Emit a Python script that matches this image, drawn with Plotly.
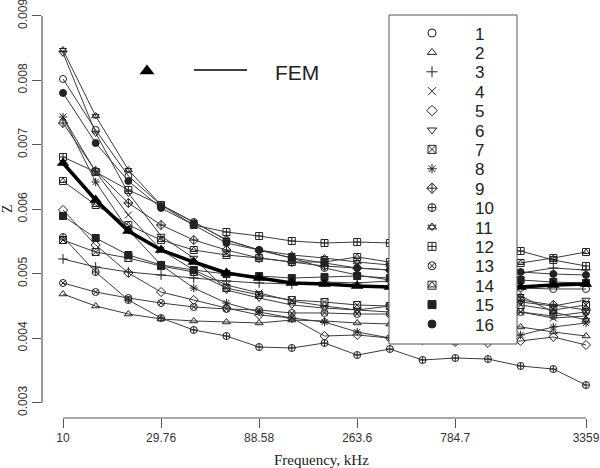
import plotly.graph_objects as go

# ---- data ----
freq = [10, 14.38, 20.69, 29.76, 42.81, 61.58, 88.58, 127.4, 183.3, 263.6,
        379.2, 545.5, 784.7, 1128.7, 1623.6, 2335.5, 3359]
x_tick_vals = [10, 29.76, 88.58, 263.6, 784.7, 3359]
x_tick_text = ["10", "29.76", "88.58", "263.6", "784.7", "3359"]
y_tick_vals = [0.003, 0.004, 0.005, 0.006, 0.007, 0.008, 0.009]
y_tick_text = ["0.003", "0.004", "0.005", "0.006", "0.007", "0.008", "0.009"]

z_fem = [0.006716, 0.006143, 0.005662, 0.005367, 0.005181, 0.005011, 0.004933, 0.004856, 0.004840,
         0.004809, 0.004794, 0.004794, 0.004794, 0.004794, 0.004794, 0.004825, 0.004840]
z1 = [0.008019, 0.007228, 0.006515, 0.006065, 0.005801, 0.005522, 0.005367, 0.005243, 0.005088,
      0.004980, 0.004902, 0.004856, 0.004825, 0.004794, 0.004778, 0.004763, 0.004763]
z2 = [0.004685, 0.004499, 0.004375, 0.004298, 0.004267, 0.004251, 0.004236, 0.004282, 0.004267,
      0.004236, 0.004220, 0.004205, 0.004189, 0.004189, 0.004174, 0.004096, 0.004034]
z3 = [0.005228, 0.005104, 0.005026, 0.004980, 0.004933, 0.004887, 0.004856, 0.004840, 0.004871,
      0.004856, 0.004887, 0.004902, 0.004933, 0.004964, 0.005011, 0.005088, 0.005057]
z4 = [0.007429, 0.006577, 0.005910, 0.005367, 0.005057, 0.004825, 0.004701, 0.004577, 0.004499,
      0.004437, 0.004406, 0.004375, 0.004360, 0.004344, 0.004406, 0.004313, 0.004344]
z5 = [0.005988, 0.005445, 0.005011, 0.004716, 0.004592, 0.004468, 0.004360, 0.004313, 0.004034,
      0.004050, 0.004003, 0.003972, 0.003941, 0.003926, 0.003957, 0.004019, 0.003895]
z6 = [0.008422, 0.007181, 0.006251, 0.005584, 0.005243, 0.004747, 0.004623, 0.004515, 0.004468,
      0.004437, 0.004499, 0.004515, 0.004530, 0.004546, 0.004561, 0.004499, 0.004592]
z7 = [0.005522, 0.005336, 0.005243, 0.005119, 0.005026, 0.004778, 0.004670, 0.004592, 0.004561,
      0.004515, 0.004499, 0.004499, 0.004499, 0.004515, 0.004515, 0.004437, 0.004515]
z8 = [0.007429, 0.006422, 0.005677, 0.005135, 0.004778, 0.004546, 0.004406, 0.004313, 0.004251,
      0.004096, 0.004003, 0.003972, 0.003957, 0.004003, 0.004050, 0.004174, 0.004236]
z9 = [0.007336, 0.006592, 0.006096, 0.005755, 0.005522, 0.005367, 0.005243, 0.005181, 0.005119,
      0.005088, 0.005057, 0.004902, 0.004747, 0.004654, 0.004592, 0.004515, 0.004437]
z10 = [0.005569, 0.005026, 0.004592, 0.004313, 0.004127, 0.004034, 0.003863, 0.003848, 0.003926,
       0.003739, 0.003832, 0.003662, 0.003693, 0.003677, 0.003569, 0.003522, 0.003274]
z11 = [0.008468, 0.007445, 0.006608, 0.006065, 0.005801, 0.005522, 0.005367, 0.005290, 0.005243,
       0.005181, 0.005135, 0.005057, 0.004902, 0.004747, 0.004654, 0.004406, 0.004282]
z12 = [0.006809, 0.006577, 0.006298, 0.006065, 0.005755, 0.005646, 0.005584, 0.005507, 0.005476,
       0.005491, 0.005476, 0.005445, 0.005414, 0.005383, 0.005352, 0.005212, 0.005119]
z13 = [0.004856, 0.004716, 0.004623, 0.004546, 0.004484, 0.004453, 0.004437, 0.004391, 0.004391,
       0.004375, 0.004375, 0.004391, 0.004406, 0.004406, 0.004406, 0.004344, 0.004406]
z14 = [0.006437, 0.006065, 0.005755, 0.005522, 0.005367, 0.005290, 0.005243, 0.005181, 0.005181,
       0.005259, 0.005181, 0.005150, 0.005135, 0.005150, 0.005166, 0.005243, 0.005336]
z15 = [0.005895, 0.005553, 0.005290, 0.005135, 0.005057, 0.004995, 0.004964, 0.004933, 0.004949,
       0.004964, 0.004933, 0.004918, 0.004902, 0.004902, 0.004902, 0.004871, 0.004856]
z16 = [0.007802, 0.007026, 0.006437, 0.006019, 0.005755, 0.005476, 0.005367, 0.005243, 0.005166,
       0.005088, 0.005057, 0.005042, 0.005042, 0.005026, 0.005026, 0.004995, 0.004980]

series_names = [str(k) for k in range(1, 17)]
series_values = [z1, z2, z3, z4, z5, z6, z7, z8, z9, z10, z11, z12, z13, z14, z15, z16]
# base glyph and an optional overlaid glyph (to mimic R's pch 11 and 14)
series_symbols = ["circle-open", "triangle-up-open", "cross-thin-open", "x-thin-open",
                  "diamond-open", "triangle-down-open", "square-x-open", "asterisk-open",
                  "diamond-cross-open", "circle-cross-open", "triangle-up-open", "square-cross-open",
                  "circle-x-open", "square-open", "square", "circle"]
series_overlay = [None, None, None, None, None, None, None, None, None, None,
                  "triangle-down-open", None, None, "triangle-up-open", None, None]

# ---- styling ----
SANS = "Arial, Liberation Sans, sans-serif"
SERIF = "Times New Roman, Liberation Serif, serif"
INK = "#222222"
AXIS = "#555555"
MSIZE = 7

fig = go.Figure()

for name, vals, sym, ovl in zip(series_names, series_values, series_symbols, series_overlay):
    fig.add_trace(go.Scatter(
        x=freq, y=vals, mode="lines+markers", name=name, showlegend=False,
        line=dict(color="#3c3c3c", width=1),
        marker=dict(symbol=sym, size=MSIZE, color=INK, line=dict(color=INK, width=1)),
    ))
    if ovl:
        fig.add_trace(go.Scatter(
            x=freq, y=vals, mode="markers", name=name, showlegend=False, hoverinfo="skip",
            marker=dict(symbol=ovl, size=MSIZE - 1, color=INK, line=dict(color=INK, width=1)),
        ))

fig.add_trace(go.Scatter(
    x=freq, y=z_fem, mode="lines+markers", name="FEM", showlegend=False,
    line=dict(color="#000000", width=3.5),
    marker=dict(symbol="triangle-up", size=11, color="#000000"),
))

# ---- custom legend drawn on an overlay pixel-space axis ----
box_l, box_r, box_t, box_b = 389, 517, 15, 344
fig.add_trace(go.Scatter(
    x=[box_l, box_r, box_r, box_l, box_l], y=[box_t, box_t, box_b, box_b, box_t],
    mode="lines", fill="toself", fillcolor="white",
    line=dict(color=AXIS, width=1), xaxis="x2", yaxis="y2", showlegend=False, hoverinfo="skip",
))
row0, row_step = 33, 19.4
rows = [row0 + row_step * k for k in range(16)]
fig.add_trace(go.Scatter(
    x=[432] * 16, y=rows, mode="markers", xaxis="x2", yaxis="y2", showlegend=False,
    marker=dict(symbol=series_symbols, size=8, color=INK, line=dict(color=INK, width=1)),
    hoverinfo="skip",
))
ovl_rows = [r for r, o in zip(rows, series_overlay) if o]
ovl_syms = [o for o in series_overlay if o]
fig.add_trace(go.Scatter(
    x=[432] * len(ovl_rows), y=ovl_rows, mode="markers", xaxis="x2", yaxis="y2", showlegend=False,
    marker=dict(symbol=ovl_syms, size=7, color=INK, line=dict(color=INK, width=1)),
    hoverinfo="skip",
))
annotations = []
for name, r in zip(series_names, rows):
    annotations.append(dict(x=473, y=r + 1, xref="x2", yref="y2", text=name, showarrow=False,
                            xanchor="left", yanchor="middle", font=dict(family=SANS, size=17, color=INK)))

# FEM key
fig.add_trace(go.Scatter(x=[147], y=[71], mode="markers", xaxis="x2", yaxis="y2", showlegend=False,
                         marker=dict(symbol="triangle-up", size=13, color="#000000"), hoverinfo="skip"))
fig.add_trace(go.Scatter(x=[194, 247], y=[70, 70], mode="lines", xaxis="x2", yaxis="y2",
                         showlegend=False, line=dict(color="#000000", width=1.5), hoverinfo="skip"))
annotations.append(dict(x=273, y=72, xref="x2", yref="y2", text="FEM", showarrow=False,
                        xanchor="left", yanchor="middle", font=dict(family=SANS, size=21, color=INK)))

# axis titles
annotations.append(dict(x=0.5, y=-0.1005, xref="paper", yref="paper", text="Frequency, kHz",
                        showarrow=False, xanchor="center", yanchor="middle",
                        font=dict(family=SERIF, size=15, color=INK)))
annotations.append(dict(x=-0.0627, y=0.5, xref="paper", yref="paper", text="Z", textangle=-90,
                        showarrow=False, xanchor="center", yanchor="middle",
                        font=dict(family=SERIF, size=14, color=INK)))

shapes = [
    dict(type="line", xref="x", yref="paper", x0=x_tick_vals[0], x1=x_tick_vals[-1], y0=0, y1=0,
         line=dict(color=AXIS, width=1.2)),
    dict(type="line", xref="paper", yref="y", x0=0, x1=0, y0=y_tick_vals[0], y1=y_tick_vals[-1],
         line=dict(color=AXIS, width=1.2)),
]

fig.update_layout(
    width=600, height=468,
    margin=dict(l=42, r=0, t=0, b=50),
    paper_bgcolor="white", plot_bgcolor="white",
    showlegend=False,
    xaxis=dict(type="log", range=[0.89857, 3.59385], tickvals=x_tick_vals, ticktext=x_tick_text,
               ticks="outside", ticklen=9, tickcolor=AXIS, tickwidth=1.2, showgrid=False,
               zeroline=False, showline=False, automargin=False, ticklabeloverflow="allow",
               tickfont=dict(family=SANS, size=12, color="#333333")),
    yaxis=dict(range=[0.002763, 0.009243], tickvals=y_tick_vals, ticktext=y_tick_text,
               tickangle=-90, ticks="outside", ticklen=9, tickcolor=AXIS, tickwidth=1.2,
               showgrid=False, zeroline=False, showline=False, automargin=False,
               ticklabeloverflow="allow",
               tickfont=dict(family=SANS, size=12, color="#333333")),
    xaxis2=dict(overlaying="x", anchor="y2", range=[42, 600], visible=False, fixedrange=True),
    yaxis2=dict(overlaying="y", anchor="x2", range=[418, 0], visible=False, fixedrange=True),
    annotations=annotations,
    shapes=shapes,
)

fig.write_html("out.html", config={"displayModeBar": False},
               post_script="document.body.style.margin='0';")
